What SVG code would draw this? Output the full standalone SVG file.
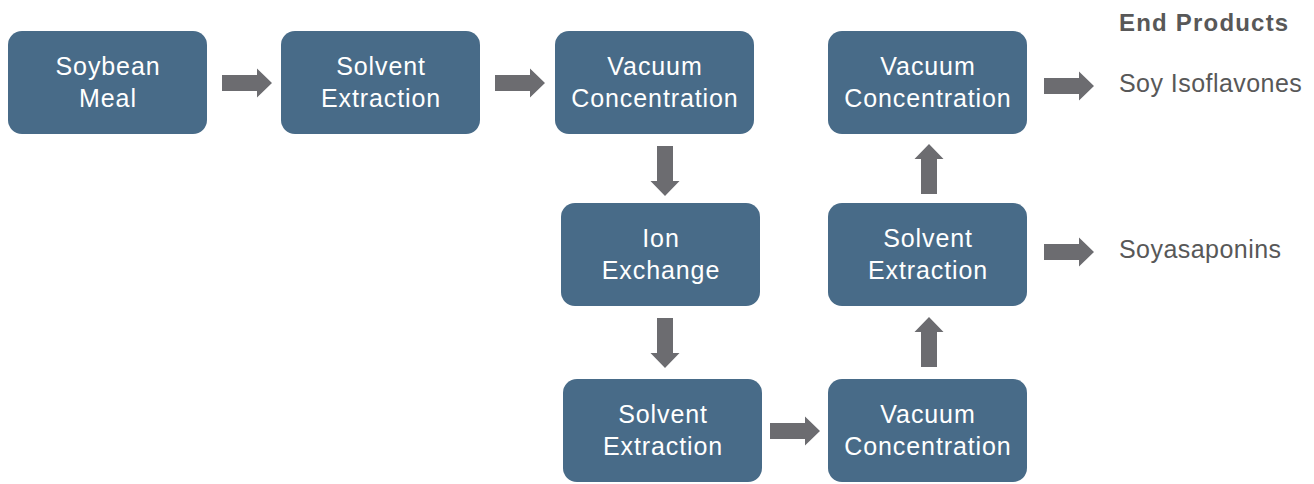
<svg xmlns="http://www.w3.org/2000/svg" width="1314" height="484" viewBox="0 0 1314 484">
  <defs>
    <!-- block arrow pointing right, 50 long, origin at tail centre -->
    <path id="arr" d="M0,-8 H35 V-14.5 L50,0 L35,14.5 V8 H0 Z"/>
  </defs>
  <style>
    .box { fill: #486b88; }
    .lbl { fill: #ffffff; font-family: "Liberation Sans", Arial, sans-serif; font-size: 25px; letter-spacing: 0.9px; text-anchor: middle; }
    .arrow { fill: #6c6c70; }
    .prod { fill: #585858; font-family: "Liberation Sans", Arial, sans-serif; font-size: 25px; letter-spacing: 0.45px; }
    .head { fill: #585858; font-family: "Liberation Sans", Arial, sans-serif; font-size: 24px; font-weight: bold; letter-spacing: 1.2px; }
  </style>
  <rect width="1314" height="484" fill="#ffffff"/>

  <g id="soybean-meal">
    <rect class="box" x="8" y="31" width="199" height="103" rx="14"/>
    <text class="lbl" x="108" y="75">Soybean</text>
    <text class="lbl" x="108" y="107">Meal</text>
  </g>
  <g id="solvent-extraction-1">
    <rect class="box" x="281" y="31" width="199" height="103" rx="14"/>
    <text class="lbl" x="381" y="75">Solvent</text>
    <text class="lbl" x="381" y="107">Extraction</text>
  </g>
  <g id="vacuum-concentration-1">
    <rect class="box" x="555" y="31" width="199" height="103" rx="14"/>
    <text class="lbl" x="655" y="75">Vacuum</text>
    <text class="lbl" x="655" y="107">Concentration</text>
  </g>
  <g id="ion-exchange">
    <rect class="box" x="561" y="203" width="199" height="103" rx="14"/>
    <text class="lbl" x="661" y="247">Ion</text>
    <text class="lbl" x="661" y="279">Exchange</text>
  </g>
  <g id="solvent-extraction-2">
    <rect class="box" x="563" y="379" width="199" height="103" rx="14"/>
    <text class="lbl" x="663" y="423">Solvent</text>
    <text class="lbl" x="663" y="455">Extraction</text>
  </g>
  <g id="vacuum-concentration-2">
    <rect class="box" x="828" y="379" width="199" height="103" rx="14"/>
    <text class="lbl" x="928" y="423">Vacuum</text>
    <text class="lbl" x="928" y="455">Concentration</text>
  </g>
  <g id="solvent-extraction-3">
    <rect class="box" x="828" y="203" width="199" height="103" rx="14"/>
    <text class="lbl" x="928" y="247">Solvent</text>
    <text class="lbl" x="928" y="279">Extraction</text>
  </g>
  <g id="vacuum-concentration-3">
    <rect class="box" x="828" y="31" width="199" height="103" rx="14"/>
    <text class="lbl" x="928" y="75">Vacuum</text>
    <text class="lbl" x="928" y="107">Concentration</text>
  </g>

  <g id="end-products">
    <text class="head" x="1119" y="31">End Products</text>
    <text class="prod" x="1119" y="92">Soy Isoflavones</text>
    <text class="prod" x="1119" y="258">Soyasaponins</text>
  </g>

  <g id="connectors" class="arrow">
    <use href="#arr" transform="translate(222,83)"/>
    <use href="#arr" transform="translate(495,83)"/>
    <use href="#arr" transform="translate(665,146) rotate(90)"/>
    <use href="#arr" transform="translate(665,318) rotate(90)"/>
    <use href="#arr" transform="translate(770,431)"/>
    <use href="#arr" transform="translate(929,367) rotate(-90)"/>
    <use href="#arr" transform="translate(929,194) rotate(-90)"/>
    <use href="#arr" transform="translate(1044,86)"/>
    <use href="#arr" transform="translate(1044,252)"/>
  </g>
</svg>
